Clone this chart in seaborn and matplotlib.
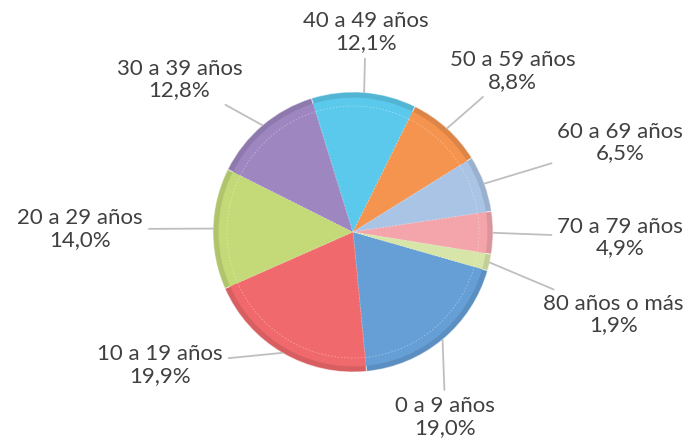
import matplotlib
matplotlib.use("Agg")
import matplotlib.pyplot as plt
import seaborn as sns
import numpy as np

categories = ["0 a 9 años", "10 a 19 años", "20 a 29 años", "30 a 39 años",
              "40 a 49 años", "50 a 59 años", "60 a 69 años", "70 a 79 años",
              "80 años o más"]
values = [19.0, 19.9, 14.0, 12.8, 12.1, 8.8, 6.5, 4.9, 1.9]
value_labels = ["19,0%", "19,9%", "14,0%", "12,8%", "12,1%", "8,8%", "6,5%", "4,9%", "1,9%"]

# layout (label positions in pie-radius units, relative to centre)
label_pos = [(0.66, -1.32), (-1.38, -0.95), (-1.95, 0.02), (-1.24, 1.09),
             (0.09, 1.43), (1.14, 1.15), (1.91, 0.64), (1.91, -0.04), (1.86, -0.59)]

colors = ["#669FD6", "#F0696C", "#C4DA78", "#9E86C0", "#5BC9EC",
          "#F5944F", "#AAC4E6", "#F3A5AB", "#D7E6A8"]

sns.set_theme(style="white")
plt.rcParams['font.family'] = ['Lato', 'DejaVu Sans']

fig = plt.figure(figsize=(6.9, 4.44), dpi=100)
ax = fig.add_axes([0, 0, 1, 1])

pal = sns.color_palette(colors)
dark = [tuple(np.clip(np.array(c) * 0.9, 0, 1)) for c in pal]

wedges, _ = ax.pie(values, colors=dark, startangle=-16, counterclock=False,
                   radius=1.0, center=(0, 0), frame=True,
                   wedgeprops=dict(linewidth=0.8, edgecolor=(1, 1, 1, 0.5)))
ax.pie(values, colors=pal, startangle=-16, counterclock=False,
       radius=0.96, center=(0, 0), frame=True,
       wedgeprops=dict(linewidth=0))
ax.pie(values, colors=pal, startangle=-16, counterclock=False,
       radius=0.9, center=(0, 0), frame=True,
       wedgeprops=dict(linewidth=0.6, edgecolor=(1, 1, 1, 0.35), linestyle=(0, (2, 2))))
ax.set_xlim(-353 / 140, (690 - 353) / 140)
ax.set_ylim(-(444 - 232) / 140, 232 / 140)
ax.set_aspect("auto")
ax.axis("off")

for w, cat, vl, pos in zip(wedges, categories, value_labels, label_pos):
    ang = np.deg2rad((w.theta1 + w.theta2) / 2)
    xy = (np.cos(ang) * 1.0, np.sin(ang) * 1.0)
    ax.annotate(f"{cat}\n{vl}", xy=xy, xytext=pos, ha="center", va="center",
                fontsize=16, fontweight="normal", color="#404040", linespacing=1.1,
                arrowprops=dict(arrowstyle="-", color="#BFBFBF", lw=1.3,
                                shrinkA=2, shrinkB=0))

fig.savefig("out.png", dpi=100)
